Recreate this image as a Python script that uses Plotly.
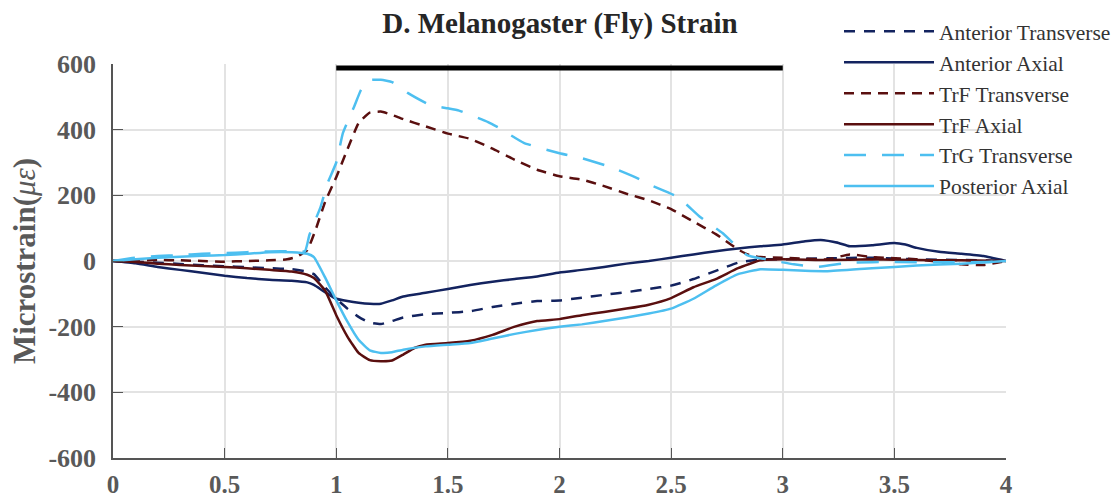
import plotly.graph_objects as go

# ---------------- data ----------------
ant_trans_x = [0, 0.1, 0.2, 0.3, 0.4, 0.5, 0.6, 0.7, 0.8, 0.87, 0.9, 0.95, 1.0, 1.05, 1.1, 1.15, 1.2, 1.25, 1.3, 1.4, 1.5, 1.6, 1.7, 1.8, 1.9, 2.0, 2.1, 2.2, 2.3, 2.4, 2.5, 2.6, 2.7, 2.8, 2.9, 3.0, 3.2, 3.4, 3.6, 3.8, 4.0]
ant_trans_y = [0, -2, -5, -9, -13, -16, -19, -22, -25, -32, -40, -80, -115, -145, -170, -188, -192, -183, -172, -162, -158, -153, -140, -130, -122, -120, -112, -103, -95, -85, -75, -55, -30, -5, 5, 5, 8, 10, 5, 3, 0]

ant_axial_x = [0, 0.1, 0.2, 0.3, 0.4, 0.5, 0.6, 0.7, 0.8, 0.87, 0.9, 0.95, 1.0, 1.05, 1.1, 1.15, 1.2, 1.25, 1.3, 1.4, 1.5, 1.6, 1.7, 1.8, 1.9, 2.0, 2.1, 2.2, 2.3, 2.4, 2.5, 2.6, 2.7, 2.8, 2.9, 3.0, 3.1, 3.17, 3.25, 3.3, 3.4, 3.5, 3.55, 3.6, 3.7, 3.8, 3.9, 4.0]
ant_axial_y = [0, -7, -18, -27, -36, -45, -52, -57, -60, -65, -73, -95, -115, -122, -127, -130, -130, -120, -108, -97, -85, -73, -63, -55, -47, -35, -27, -18, -8, 0, 10, 20, 30, 38, 45, 50, 60, 64, 55, 45, 48, 55, 50, 40, 28, 22, 15, 0]

trf_trans_x = [0, 0.1, 0.2, 0.3, 0.4, 0.5, 0.6, 0.7, 0.78, 0.82, 0.87, 0.91, 0.95, 1.0, 1.05, 1.1, 1.15, 1.2, 1.25, 1.3, 1.4, 1.5, 1.6, 1.7, 1.8, 1.9, 2.0, 2.1, 2.2, 2.3, 2.4, 2.5, 2.6, 2.7, 2.8, 2.85, 2.9, 3.0, 3.2, 3.3, 3.4, 3.6, 3.8, 3.9, 4.0]
trf_trans_y = [0, 2, 3, 2, 0, -2, 0, 2, 5, 12, 33, 100, 180, 255, 340, 420, 452, 455, 445, 432, 410, 388, 372, 342, 308, 278, 258, 248, 228, 205, 185, 158, 120, 82, 35, 18, 12, 10, 5, 20, 12, 5, -10, -12, 0]

trf_axial_x = [0, 0.1, 0.2, 0.3, 0.4, 0.5, 0.6, 0.7, 0.8, 0.87, 0.9, 0.95, 1.0, 1.05, 1.1, 1.15, 1.2, 1.25, 1.3, 1.35, 1.4, 1.5, 1.6, 1.7, 1.8, 1.9, 2.0, 2.1, 2.2, 2.3, 2.4, 2.5, 2.6, 2.7, 2.8, 2.9, 3.0, 3.2, 3.4, 3.6, 3.8, 4.0]
trf_axial_y = [0, -3, -8, -12, -15, -18, -22, -27, -32, -42, -52, -90, -165, -230, -280, -302, -305, -303, -285, -265, -255, -250, -243, -225, -200, -183, -177, -165, -155, -145, -133, -113, -80, -55, -22, 2, 5, 3, 5, 3, 2, 0]

trg_trans_x = [0, 0.1, 0.2, 0.3, 0.4, 0.5, 0.6, 0.7, 0.8, 0.86, 0.88, 0.93, 0.96, 1.0, 1.03, 1.08, 1.11, 1.14, 1.2, 1.25, 1.32, 1.42, 1.5, 1.55, 1.68, 1.73, 1.84, 2.0, 2.1, 2.23, 2.35, 2.41, 2.53, 2.63, 2.73, 2.84, 2.95, 3.05, 3.15, 3.3, 3.5, 3.7, 3.9, 4.0]
trg_trans_y = [0, 10, 15, 18, 22, 24, 27, 29, 30, 30, 80, 165, 235, 300, 390, 470, 520, 550, 552, 545, 512, 475, 465, 458, 423, 405, 360, 328, 313, 286, 252, 231, 195, 134, 85, 18, 2, -10, -18, -5, -3, -4, -3, 0]

post_axial_x = [0, 0.1, 0.2, 0.3, 0.4, 0.5, 0.6, 0.7, 0.8, 0.87, 0.9, 0.95, 1.0, 1.05, 1.1, 1.15, 1.2, 1.25, 1.3, 1.4, 1.5, 1.6, 1.7, 1.8, 1.9, 2.0, 2.1, 2.2, 2.3, 2.4, 2.5, 2.6, 2.7, 2.8, 2.9, 3.0, 3.1, 3.2, 3.4, 3.6, 3.8, 4.0]
post_axial_y = [0, 5, 10, 13, 16, 18, 22, 27, 27, 22, 12, -50, -120, -185, -240, -272, -280, -278, -270, -260, -255, -250, -236, -222, -210, -200, -193, -183, -172, -160, -145, -115, -75, -40, -25, -27, -30, -31, -22, -14, -8, 0]

stim_x = [1, 3]
stim_y = [588, 588]

x_ticks = [0, 0.5, 1, 1.5, 2, 2.5, 3, 3.5, 4]
x_tick_text = ["0", "0.5", "1", "1.5", "2", "2.5", "3", "3.5", "4"]
y_ticks = [-600, -400, -200, 0, 200, 400, 600]
y_tick_text = ["-600", "-400", "-200", "0", "200", "400", "600"]

# ---------------- styling ----------------
NAVY = "#13235F"
DRED = "#5A0F0F"
LBLUE = "#4DBFF0"
SERIF = "Liberation Serif, Times New Roman, serif"

series = [
    ("Anterior Transverse", ant_trans_x, ant_trans_y, NAVY, "11px,9px"),
    ("Anterior Axial", ant_axial_x, ant_axial_y, NAVY, "solid"),
    ("TrF Transverse", trf_trans_x, trf_trans_y, DRED, "10px,7px"),
    ("TrF Axial", trf_axial_x, trf_axial_y, DRED, "solid"),
    ("TrG Transverse", trg_trans_x, trg_trans_y, LBLUE, "22px,16px"),
    ("Posterior Axial", post_axial_x, post_axial_y, LBLUE, "solid"),
]

fig = go.Figure()
for name, xs, ys, col, dash in series:
    fig.add_trace(go.Scatter(
        x=xs, y=ys, mode="lines", name=name, legendgroup=name,
        line=dict(color=col, width=2.5, dash=dash, shape="spline", smoothing=0.4),
    ))

fig.add_trace(go.Scatter(
    x=stim_x, y=stim_y, mode="lines", showlegend=False,
    line=dict(color="black", width=5), hoverinfo="skip",
))

fig.update_layout(
    width=1120, height=504,
    margin=dict(l=113, r=114, t=64, b=46, autoexpand=False),
    paper_bgcolor="white", plot_bgcolor="white",
    title=dict(text="<b>D. Melanogaster (Fly) Strain</b>", x=0.5, xanchor="center",
               y=0.955, yanchor="middle", font=dict(family=SERIF, size=29, color="#262626")),
    legend=dict(x=0.813, xanchor="left", y=1.135, yanchor="top",
                bgcolor="rgba(0,0,0,0)", font=dict(family=SERIF, size=21.5, color="#333333"),
                tracegroupgap=12, itemwidth=90, traceorder="normal"),
    showlegend=True,
)

fig.update_xaxes(
    range=[0, 4], tickvals=x_ticks, ticktext=x_tick_text,
    showgrid=True, gridcolor="#E3E3E3", gridwidth=1.5,
    showline=True, linecolor="#555555", linewidth=1.5,
    ticks="inside", ticklen=10, tickcolor="#555555", tickwidth=1.2,
    ticklabelstandoff=3, automargin=False,
    tickfont=dict(family=SERIF, size=25, color="#595959", weight="bold"),
    zeroline=False,
)
fig.update_yaxes(
    range=[-600, 600], tickvals=y_ticks, ticktext=y_tick_text,
    showgrid=True, gridcolor="#E3E3E3", gridwidth=1.5,
    showline=True, linecolor="#555555", linewidth=1.5,
    ticks="inside", ticklen=10, tickcolor="#555555", tickwidth=1.2,
    ticklabelstandoff=10, automargin=False,
    tickfont=dict(family=SERIF, size=26, color="#595959", weight="bold"),
    zeroline=False,
    title=dict(text="<b>Microstrain(</b><i>με</i><b>)</b>", standoff=4,
               font=dict(family=SERIF, size=31, color="#595959")),
)

fig.write_html("out.html")
